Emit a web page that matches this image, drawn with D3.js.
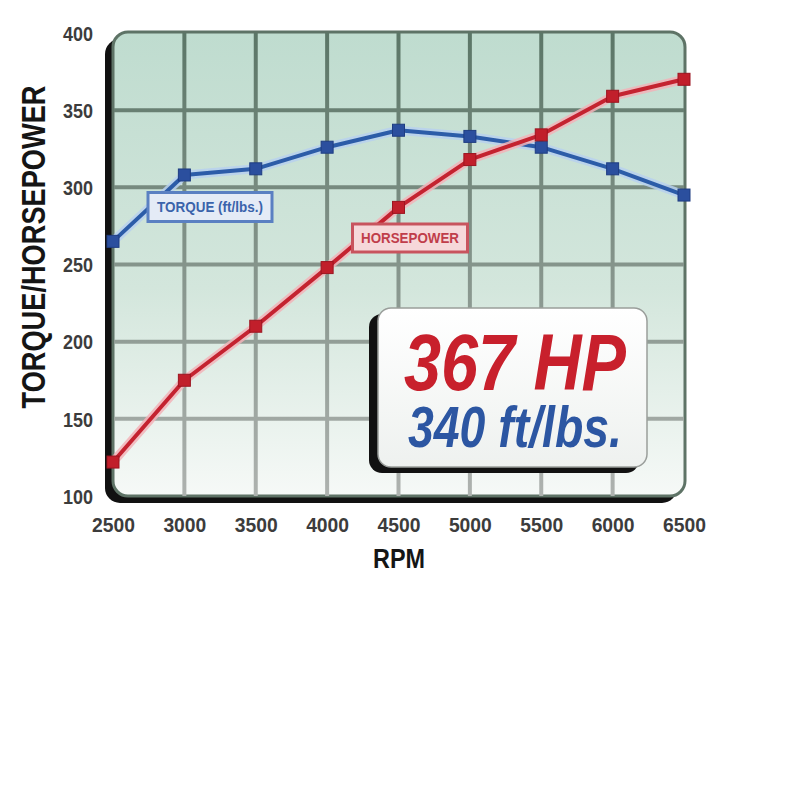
<!DOCTYPE html>
<html><head><meta charset="utf-8">
<script src="https://cdn.jsdelivr.net/npm/d3@7"></script>
<style>body{margin:0;background:#fff;}svg{display:block;}</style>
</head><body>
<svg id="c" width="800" height="796"></svg>
<script>
const rpm = [2500, 3000, 3500, 4000, 4500, 5000, 5500, 6000, 6500];
const torque = [265, 308, 312, 326, 337, 333, 326, 312, 295];
const horsepower = [122, 175, 210, 248, 287, 318, 334, 359, 370];
const yTicks = [100, 150, 200, 250, 300, 350, 400];
const xTicks = [2500, 3000, 3500, 4000, 4500, 5000, 5500, 6000, 6500];
const torqueLabel = "TORQUE (ft/lbs.)";
const hpLabel = "HORSEPOWER";
const peakHP = "367 HP";
const peakTorque = "340 ft/lbs.";
const yTitle = "TORQUE/HORSEPOWER";
const xTitle = "RPM";

const svg = d3.select("#c");
const x = d3.scaleLinear().domain([2500, 6500]).range([113, 684]);
const y = d3.scaleLinear().domain([100, 400]).range([496, 33]);
const narrow = "'Liberation Sans Narrow','Liberation Sans',Arial,sans-serif";

const defs = svg.append("defs");
const bg = defs.append("linearGradient").attr("id","bg").attr("gradientUnits","userSpaceOnUse")
  .attr("x1",0).attr("y1",33).attr("x2",0).attr("y2",496);
bg.append("stop").attr("offset",0).attr("stop-color","#bfdccf");
bg.append("stop").attr("offset",0.55).attr("stop-color","#d3e6dc");
bg.append("stop").attr("offset",1).attr("stop-color","#f6f9f7");
const gg = defs.append("linearGradient").attr("id","gg").attr("gradientUnits","userSpaceOnUse")
  .attr("x1",0).attr("y1",33).attr("x2",0).attr("y2",496);
gg.append("stop").attr("offset",0).attr("stop-color","#5b7667");
gg.append("stop").attr("offset",1).attr("stop-color","#aeb2af");
const bx = defs.append("linearGradient").attr("id","bx").attr("x1",0).attr("y1",0).attr("x2",0).attr("y2",1);
bx.append("stop").attr("offset",0).attr("stop-color","#ffffff");
bx.append("stop").attr("offset",1).attr("stop-color","#eef1ef");

const X0 = x.range()[0], X1 = x.range()[1] + 1, Y0 = y.range()[1] - 1, Y1 = y.range()[0];

// frame shadow
svg.append("rect").attr("x", X0 - 8).attr("y", Y0 + 7).attr("width", X1 - X0).attr("height", Y1 - Y0)
  .attr("rx", 15).attr("fill", "#111");
// plot area
svg.append("rect").attr("x", X0).attr("y", Y0).attr("width", X1 - X0).attr("height", Y1 - Y0)
  .attr("rx", 15).attr("fill", "url(#bg)").attr("stroke", "#5e7366").attr("stroke-width", 3);

// grid
const grid = svg.append("g");
grid.selectAll("line.v").data(xTicks.slice(1, -1)).join("line")
  .attr("x1", d => x(d)).attr("x2", d => x(d)).attr("y1", Y0 + 1).attr("y2", Y1)
  .attr("stroke", "url(#gg)").attr("stroke-width", 4);
grid.selectAll("line.h").data(yTicks.slice(1, -1)).join("line")
  .attr("x1", X0 + 1).attr("x2", X1 - 1).attr("y1", d => y(d)).attr("y2", d => y(d))
  .attr("stroke", "url(#gg)").attr("stroke-width", 4);

// series
function series(vals, halo, col, mark, markStroke) {
  const pts = rpm.map((r, i) => [x(r), y(vals[i])]);
  const line = d3.line();
  svg.append("path").attr("d", line(pts)).attr("fill", "none").attr("stroke", halo)
    .attr("stroke-width", 9).attr("stroke-linejoin", "round").attr("opacity", 0.85);
  svg.append("path").attr("d", line(pts)).attr("fill", "none").attr("stroke", col)
    .attr("stroke-width", 4).attr("stroke-linejoin", "round");
  svg.append("g").selectAll("rect").data(pts).join("rect")
    .attr("x", d => d[0] - 6).attr("y", d => d[1] - 6).attr("width", 12).attr("height", 12)
    .attr("fill", mark).attr("stroke", markStroke).attr("stroke-width", 1);
}
series(torque, "#b7d0ee", "#2c5ca8", "#2b4f9e", "#1f3d82");
series(horsepower, "#f2b3b8", "#c42330", "#c11f2b", "#9c1520");

// legend boxes
function legend(cx, cy, w, h, fill, stroke, tcol, label, tl) {
  svg.append("rect").attr("x", cx - w / 2).attr("y", cy - h / 2).attr("width", w).attr("height", h)
    .attr("fill", fill).attr("stroke", stroke).attr("stroke-width", 3);
  svg.append("text").attr("x", cx).attr("y", cy + 5).attr("text-anchor", "middle")
    .attr("font-family", narrow).attr("font-weight", "bold").attr("font-size", 14)
    .attr("fill", tcol).attr("textLength", tl).attr("lengthAdjust", "spacingAndGlyphs").text(label);
}
legend(210, 207, 124, 29, "#e4ebf6", "#5a80c2", "#3a63ab", torqueLabel, 106);
legend(410, 238, 115, 28, "#f6d8da", "#c8545e", "#c03d4a", hpLabel, 98);

// big annotation box
svg.append("rect").attr("x", 369).attr("y", 314).attr("width", 270).attr("height", 159)
  .attr("rx", 13).attr("fill", "#111");
svg.append("rect").attr("x", 378).attr("y", 308).attr("width", 269).attr("height", 159)
  .attr("rx", 13).attr("fill", "url(#bx)").attr("stroke", "#9a9e9b").attr("stroke-width", 1.5);
svg.append("text").attr("x", 515).attr("y", 390).attr("text-anchor", "middle")
  .attr("font-family", narrow).attr("font-weight", "bold").attr("font-style", "italic")
  .attr("font-size", 80).attr("fill", "#c8202c")
  .attr("textLength", 222).attr("lengthAdjust", "spacingAndGlyphs").text(peakHP);
svg.append("text").attr("x", 515).attr("y", 447).attr("text-anchor", "middle")
  .attr("font-family", narrow).attr("font-weight", "bold").attr("font-style", "italic")
  .attr("font-size", 58).attr("fill", "#2c56a2")
  .attr("textLength", 214).attr("lengthAdjust", "spacingAndGlyphs").text(peakTorque);

// axes
const yAxis = svg.append("g").attr("transform", "translate(93,0)")
  .call(d3.axisLeft(y).tickValues(yTicks).tickSize(0).tickPadding(0).tickFormat(d3.format("d")));
yAxis.select(".domain").remove();
yAxis.selectAll("text").attr("font-family", narrow).attr("font-weight", "bold").attr("font-size", 20)
  .attr("fill", "#3c3c3c").attr("textLength", 30).attr("lengthAdjust", "spacingAndGlyphs")
  .attr("dy", "0.36em");

const xAxis = svg.append("g").attr("transform", "translate(0,516)")
  .call(d3.axisBottom(x).tickValues(xTicks).tickSize(0).tickPadding(0).tickFormat(d3.format("d")));
xAxis.select(".domain").remove();
xAxis.selectAll("text").attr("font-family", narrow).attr("font-weight", "bold").attr("font-size", 20)
  .attr("fill", "#3c3c3c").attr("textLength", 43).attr("lengthAdjust", "spacingAndGlyphs")
  .attr("dy", "0.78em");

svg.append("text").attr("transform", "translate(45,247) rotate(-90)").attr("text-anchor", "middle")
  .attr("font-family", narrow).attr("font-weight", "bold").attr("font-size", 34).attr("fill", "#151515")
  .attr("textLength", 323).attr("lengthAdjust", "spacingAndGlyphs").text(yTitle);
svg.append("text").attr("x", 399).attr("y", 568).attr("text-anchor", "middle")
  .attr("font-family", narrow).attr("font-weight", "bold").attr("font-size", 27).attr("fill", "#151515")
  .attr("textLength", 52).attr("lengthAdjust", "spacingAndGlyphs").text(xTitle);
</script>
</body></html>
